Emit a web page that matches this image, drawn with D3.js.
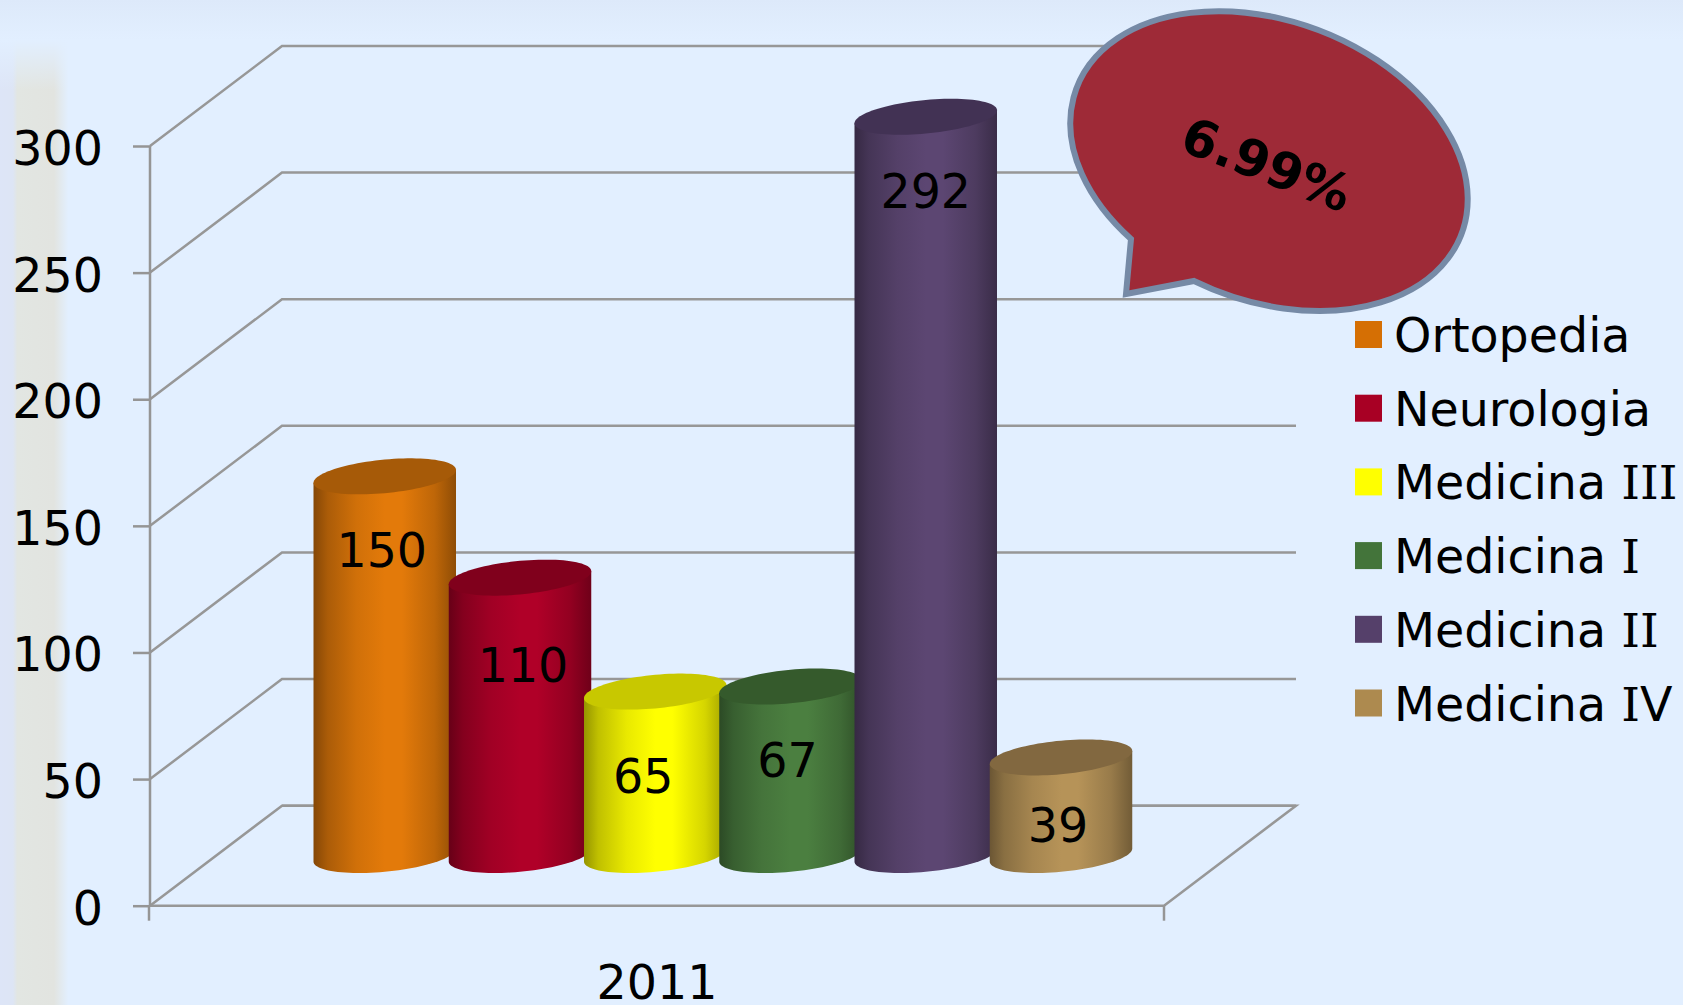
<!DOCTYPE html>
<html><head>
<meta charset="utf-8">
<title>2011</title>
<script src="https://d3js.org/d3.v7.min.js"></script>
<style>
  html, body { margin: 0; padding: 0; background: #e2efff; overflow: hidden; }
  svg { display: block; }
  text { font-family: "DejaVu Sans", Verdana, sans-serif; fill: #000; }
  .axis .domain { stroke: none; }
  .axis line { stroke: #959595; stroke-width: 2.5px; }
  .axis text { font-size: 47.5px; font-family: "DejaVu Sans", Verdana, sans-serif; }
  .grid { fill: none; stroke: #979797; stroke-width: 2.5px; }
</style>
</head>
<body>
<svg id="chart" width="1683" height="1005"></svg>
<script>

// the data
const categories = ["Ortopedia", "Neurologia", "Medicina III", "Medicina I", "Medicina II", "Medicina IV"];
const values = [150, 110, 65, 67, 292, 39];
const years = ["2011"];
const yTicks = [0, 50, 100, 150, 200, 250, 300];
const calloutText = "6.99%";

// colours per bar
const bodyColors = ["#e37a0a", "#b00028", "#ffff00", "#4b7f40", "#5c4672", "#b69358"];
const topColors = ["#a65a08", "#80001c", "#c8c800", "#355a2c", "#423254", "#826840"];
const legendColors = ["#d56f04", "#a80024", "#ffff00", "#43743a", "#55406a", "#ad8a4f"];

// label nudges, the labels don't sit at a fixed spot on the bars
const labelDx = [-3, 3, -12, -3, 0, -3];
const labelDy = [92, 106, 103, 92, 92, 86];

const svg = d3.select("svg#chart");
const defs = svg.append("defs");

// 3D box of the plot: front wall and how far the back wall is shifted
const front = {left: 150, right: 1164};
const depth = {x: 132, y: -100};
const yScale = d3.scaleLinear().domain([0, 300]).range([905.7, 146]);

// bars stand half way in, so same scale moved up
const barShift = -50.7;
const topNudge = 1.2;  // caps come out a touch lower than the plain scale
const xScale = d3.scalePoint().domain(categories).range([384.75, 1061]);
const barHalf = 71.25;
const tilt = -6.5;   // right side of the cylinder cap sits higher
const capHalf = 16.8;


// background: pale blue, top band and the faded stripe on the left
function hGradient(id, stops) {
  let g = defs.append("linearGradient").attr("id", id);
  stops.forEach( (s) => {
    g.append("stop").attr("offset", s[0]).attr("stop-color", s[1]);
  });
}
hGradient("stripe", [[0, "#dde5f7"], [0.18, "#dde5f5"], [0.24, "#e2e6e2"], [0.75, "#e2e4e0"], [0.95, "#e2efff"], [1, "#e2efff"]]);
let topBand = defs.append("linearGradient").attr("id", "topBand").attr("x2", 0).attr("y2", 1);
topBand.append("stop").attr("offset", 0).attr("stop-color", "#dde9fa");
topBand.append("stop").attr("offset", 1).attr("stop-color", "#e2efff");
let stripeFade = defs.append("linearGradient").attr("id", "stripeFade").attr("x2", 0).attr("y2", 1);
stripeFade.append("stop").attr("offset", 0).attr("stop-color", "#e2efff");
stripeFade.append("stop").attr("offset", 1).attr("stop-color", "#e2efff").attr("stop-opacity", 0);

svg.append("rect").attr("width", 1683).attr("height", 1005).attr("fill", "#e2efff");
svg.append("rect").attr("width", 1683).attr("height", 40).attr("fill", "url(#topBand)");
svg.append("rect").attr("x", 0).attr("y", 40).attr("width", 72).attr("height", 965).attr("fill", "url(#stripe)");
svg.append("rect").attr("x", 0).attr("y", 40).attr("width", 72).attr("height", 50).attr("fill", "url(#stripeFade)");


// gridlines, front wall to back wall and then across
const gridLine = d3.line();
yTicks.forEach( (t) => {
  let y = yScale(t);
  svg.append("path").attr("class", "grid")
    .attr("d", gridLine([[front.left, y], [front.left + depth.x, y + depth.y], [front.right + depth.x, y + depth.y]]));
});
// floor
svg.append("path").attr("class", "grid")
  .attr("d", gridLine([[front.left + depth.x, yScale(0) + depth.y], [front.right + depth.x, yScale(0) + depth.y],
                       [front.right, yScale(0)], [front.left, yScale(0)]]));


// axes
let leftAxis = d3.axisLeft(yScale).tickValues(yTicks).tickSize(17).tickPadding(30);
let leftG = svg.append("g").attr("class", "axis")
  .attr("transform", "translate(" + front.left + ",0)")
  .call(leftAxis);
leftG.selectAll("text").attr("dy", "0.39em");
leftG.select(".domain").remove();

svg.append("line").attr("x1", front.left).attr("x2", front.left)
  .attr("y1", yScale(300)).attr("y2", yScale(0))
  .attr("stroke", "#959595").attr("stroke-width", 2.5);
svg.append("line").attr("x1", front.left - 1).attr("x2", front.left - 1)
  .attr("y1", yScale(0)).attr("y2", yScale(0) + 15)
  .attr("stroke", "#959595").attr("stroke-width", 2.5);
svg.append("line").attr("x1", front.right).attr("x2", front.right)
  .attr("y1", yScale(0)).attr("y2", yScale(0) + 15)
  .attr("stroke", "#959595").attr("stroke-width", 2.5);

const yearScale = d3.scaleBand().domain(years).range([front.left, front.right]);
let bottomAxis = d3.axisBottom(yearScale).tickSize(0).tickPadding(59.5);
let bottomG = svg.append("g").attr("class", "axis")
  .attr("transform", "translate(0," + yScale(0) + ")")
  .call(bottomAxis);


// cylinder outline helpers
// cap is a skewed ellipse: x goes with cos, y with cos (tilt) and sin (height)
function capPoint(cx, cy, t) {
  return [cx + barHalf * Math.cos(t), cy + tilt * Math.cos(t) + capHalf * Math.sin(t)];
}
const arcSteps = d3.range(0, 49).map( (i) => i / 48 * Math.PI );
const fullSteps = d3.range(0, 97).map( (i) => i / 96 * 2 * Math.PI );
const outline = d3.line();

values.forEach( (v, i) => {
  let cx = xScale(categories[i]);
  let yTop = yScale(v) + barShift + topNudge;
  let yBottom = yScale(0) + barShift;
  let base = d3.rgb(bodyColors[i]);

  let grad = defs.append("linearGradient").attr("id", "bar" + i);
  [[0, 1.5], [0.1, 0.8], [0.3, 0.25], [0.5, 0], [0.62, 0], [0.85, 0.5], [1, 1.3]].forEach( (s) => {
    grad.append("stop").attr("offset", s[0]).attr("stop-color", base.darker(s[1]).formatHex());
  });

  // body: front half of the bottom ellipse, then up to the top
  let body = arcSteps.map( (t) => capPoint(cx, yBottom, t) );
  body.push(capPoint(cx, yTop, Math.PI));
  body.push(capPoint(cx, yTop, 0));
  svg.append("path")
    .attr("d", outline(body) + "Z")
    .attr("fill", "url(#bar" + i + ")");

  svg.append("path")
    .attr("d", outline(fullSteps.map( (t) => capPoint(cx, yTop, t) )) + "Z")
    .attr("fill", topColors[i]);
});

// value labels go on top of all the bars
svg.selectAll("text.value")
  .data(values)
  .join("text")
  .attr("class", "value")
  .attr("x", (d, i) => xScale(categories[i]) + labelDx[i])
  .attr("y", (d, i) => yScale(d) + barShift + labelDy[i])
  .attr("text-anchor", "middle")
  .style("font-size", "47.5px")
  .text( (d) => d );


// legend
const legendX = 1355;
const legendY = 321;
const legendStep = 73.7;

let legend = svg.selectAll("g.legend")
  .data(categories)
  .join("g")
  .attr("class", "legend")
  .attr("transform", (d, i) => "translate(" + legendX + "," + (legendY + i * legendStep) + ")");
legend.append("rect")
  .attr("width", 27).attr("height", 27)
  .attr("fill", (d, i) => legendColors[i]);
let legendText = legend.append("text")
  .attr("x", 39).attr("y", 31)
  .style("font-size", "47.5px");
// the capital I has serifs in the original, so the roman numerals get a serif I
legendText.each( function(d) {
  let t = d3.select(this);
  d.split(/(I+)/).filter( (part) => part != "" ).forEach( (part) => {
    let span = t.append("tspan").text(part);
    if (part[0] == "I") {
      span.style("font-family", '"DejaVu Serif", serif');
    }
  });
});


// speech bubble with the tail at the lower left
const bubble = {a: 205.8, b: 140, rot: 20.8};
const tail = {tip: [1126, 294], start: [1131, 239], end: [1194, 281]};
svg.append("path")
  .attr("d", "M" + tail.tip + "L" + tail.start
    + "A" + bubble.a + "," + bubble.b + " " + bubble.rot + " 1 1 " + tail.end + "Z")
  .attr("fill", "#9e2a37")
  .attr("stroke", "#768aa6")
  .attr("stroke-width", 6)
  .attr("stroke-linejoin", "miter");
svg.append("text")
  .attr("transform", "translate(1267,164) rotate(21)")
  .attr("text-anchor", "middle")
  .attr("dy", "0.36em")
  .style("font-size", "51px")
  .style("font-weight", "bold")
  .text(calloutText);

</script>
</body>
</html>
